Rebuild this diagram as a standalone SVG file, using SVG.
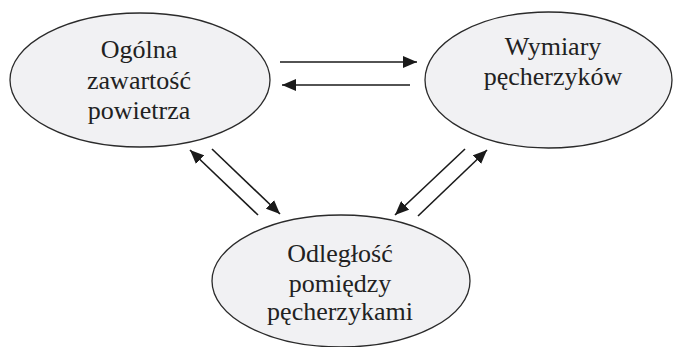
<svg xmlns="http://www.w3.org/2000/svg" width="674" height="347" viewBox="0 0 674 347">
<defs>
<marker id="ah" markerUnits="userSpaceOnUse" markerWidth="14" markerHeight="12" refX="14" refY="6" orient="auto">
<path d="M0,0 L14,6 L0,12 Z" fill="#1a1a1a"/>
</marker>
<style>
.node ellipse{fill:#f1f1f3;stroke:#2a2a2a;stroke-width:1.3}
.node text{font-family:'Liberation Serif','Times New Roman',serif;font-size:26px;fill:#222;text-anchor:middle}
#connectors line{stroke:#1a1a1a;stroke-width:1.6;marker-end:url(#ah)}
</style>
</defs>
<rect width="674" height="347" fill="#ffffff"/>
<g id="n1" class="node">
<ellipse cx="140" cy="80" rx="130" ry="67"/>
<text x="139" y="58">Ogólna</text>
<text x="139" y="89">zawartość</text>
<text x="139" y="119">powietrza</text>
</g>
<g id="n2" class="node">
<ellipse cx="548.5" cy="80" rx="123.5" ry="68"/>
<text x="553" y="55">Wymiary</text>
<text x="553" y="85">pęcherzyków</text>
</g>
<g id="n3" class="node">
<ellipse cx="341" cy="281" rx="129" ry="66"/>
<text x="340" y="262">Odległość</text>
<text x="340" y="292">pomiędzy</text>
<text x="340" y="320">pęcherzykami</text>
</g>
<g id="connectors">
<line x1="280" y1="62" x2="417" y2="62"/>
<line x1="410" y1="85" x2="282" y2="85"/>
<line x1="258" y1="215" x2="190" y2="150"/>
<line x1="212" y1="149" x2="280" y2="214"/>
<line x1="465" y1="149" x2="395" y2="215"/>
<line x1="418" y1="216" x2="487" y2="150"/>
</g>
</svg>
